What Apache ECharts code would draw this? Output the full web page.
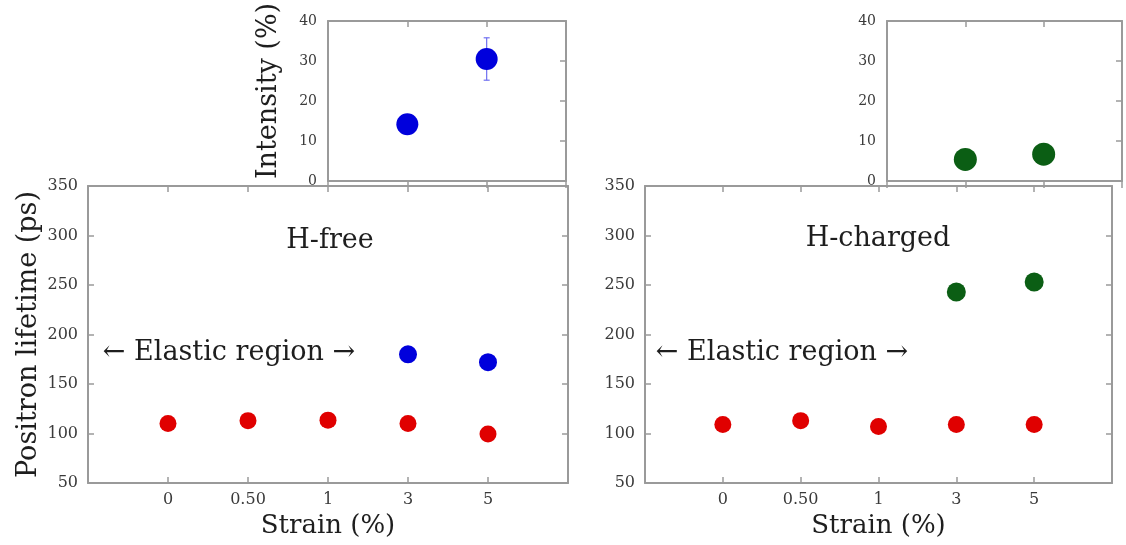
<!DOCTYPE html>
<html>
<head>
<meta charset="utf-8">
<script src="https://cdn.jsdelivr.net/npm/echarts@6/dist/echarts.min.js"></script>
<style>
  html, body { margin: 0; padding: 0; background: #fff; }
  #chart { width: 1126px; height: 545px; }
</style>
</head>
<body>
<div id="chart"></div>
<script>
// strain categories (x positions are their index)
const strainLabels = ['0', '0.50', '1', '3', '5'];
// positron lifetime (ps)
const freeRed = [110, 113, 113.5, 110, 99.5];
const freeBlue = [null, null, null, 180, 172];
const chargedRed = [109, 113, 107, 109, 109];
const chargedGreen = [null, null, null, 243, 253];
// intensity (%)
const freeIntensity = [null, null, null, 14.2, 30.5];
const freeIntensityLow = [null, null, null, null, 25.2];
const freeIntensityHigh = [null, null, null, null, 35.8];
const chargedIntensity = [null, null, null, 5.4, 6.7];
// tick values
const lifetimeTicks = [50, 100, 150, 200, 250, 300, 350];
const intensityTicks = [0, 10, 20, 30, 40];

const FONT = 'DejaVu Serif';
const LINE = '#9a9a9a';
const TXT = '#1e1e1e';

const toPoints = (arr) => arr.map((v, i) => (v == null ? null : [i, v])).filter(Boolean);

const grids = [
  { left: 88, top: 186, width: 480, height: 297 },   // H-free lifetime
  { left: 645, top: 186, width: 467, height: 297 },  // H-charged lifetime
  { left: 328, top: 21, width: 238, height: 160 },   // H-free intensity
  { left: 887, top: 21, width: 235, height: 160 },   // H-charged intensity
];

const xAxis = [];
const yAxis = [];

function boxAxes(g, xmin, xmax, ymin, ymax, yint, opts) {
  const line = { onZero: false, lineStyle: { color: LINE, width: 2 } };
  const tick = { inside: true, length: 6, lineStyle: { color: LINE, width: 1.5 } };
  // bottom x
  xAxis.push({
    gridIndex: g, type: 'value', min: xmin, max: xmax, interval: 1, position: 'bottom',
    axisLine: line,
    axisTick: opts.bottomTick || tick,
    splitLine: { show: false },
    axisLabel: opts.xLabels
      ? { formatter: (v) => strainLabels[v] ?? '', color: '#3a3a3a', fontFamily: FONT, fontSize: 16, margin: 9 }
      : { show: false },
    name: opts.xName || '', nameLocation: 'middle', nameGap: 29,
    nameTextStyle: { fontFamily: FONT, fontSize: 26, color: TXT },
  });
  // top x
  xAxis.push({
    gridIndex: g, type: 'value', min: xmin, max: xmax, interval: 1, position: 'top',
    axisLine: line, axisTick: tick, splitLine: { show: false }, axisLabel: { show: false },
  });
  // left y
  yAxis.push({
    gridIndex: g, type: 'value', min: ymin, max: ymax, interval: yint, position: 'left',
    axisLine: line,
    axisTick: opts.leftTick === false ? { show: false } : tick,
    splitLine: { show: false },
    axisLabel: { color: '#3a3a3a', fontFamily: FONT, fontSize: opts.yFont, margin: opts.yMargin },
    name: opts.yName || '', nameLocation: 'middle', nameRotate: 90, nameGap: opts.yNameGap || 46,
    nameTextStyle: { fontFamily: FONT, fontSize: opts.yNameSize || 26, color: TXT, padding: opts.yNamePad || 0 },
  });
  // right y
  yAxis.push({
    gridIndex: g, type: 'value', min: ymin, max: ymax, interval: yint, position: 'right',
    axisLine: line, axisTick: tick, splitLine: { show: false }, axisLabel: { show: false },
  });
}

const ltMin = lifetimeTicks[0], ltMax = lifetimeTicks[lifetimeTicks.length - 1];
const ltInt = lifetimeTicks[1] - lifetimeTicks[0];
const inMin = intensityTicks[0], inMax = intensityTicks[intensityTicks.length - 1];
const inInt = intensityTicks[1] - intensityTicks[0];

boxAxes(0, -1, 5, ltMin, ltMax, ltInt, { xLabels: true, xName: 'Strain (%)', yFont: 16, yMargin: 10, yName: 'Positron lifetime (ps)', yNameSize: 27 });
boxAxes(1, -1, 5, ltMin, ltMax, ltInt, { xLabels: true, xName: 'Strain (%)', yFont: 16, yMargin: 10 });
const outTick = { inside: false, length: 7, lineStyle: { color: LINE, width: 1.5 } };
boxAxes(2, 2, 5, inMin, inMax, inInt, { yFont: 14, yMargin: 11, leftTick: false, bottomTick: outTick, yName: 'Intensity (%)', yNameGap: 46, yNameSize: 27, yNamePad: [0, 0, 0, 20] });
boxAxes(3, 2, 5, inMin, inMax, inInt, { yFont: 14, yMargin: 11, leftTick: false, bottomTick: outTick });

// axis indices: grid g -> bottom x = 2g, left y = 2g
const RED = '#e00000', BLUE = '#0000dc', GREEN = '#0b5e14';

const errData = freeIntensityLow
  .map((lo, i) => (lo == null ? null : [i, lo, freeIntensityHigh[i]]))
  .filter(Boolean);

const dot = (color) => ({ color: color, opacity: 1 });

const series = [
  { type: 'scatter', xAxisIndex: 0, yAxisIndex: 0, data: toPoints(freeRed), symbolSize: 17, itemStyle: dot(RED) },
  { type: 'scatter', xAxisIndex: 0, yAxisIndex: 0, data: toPoints(freeBlue), symbolSize: 18, itemStyle: dot(BLUE) },
  { type: 'scatter', xAxisIndex: 2, yAxisIndex: 2, data: toPoints(chargedRed), symbolSize: 17, itemStyle: dot(RED) },
  { type: 'scatter', xAxisIndex: 2, yAxisIndex: 2, data: toPoints(chargedGreen), symbolSize: 19, itemStyle: dot(GREEN) },
  {
    type: 'custom', xAxisIndex: 4, yAxisIndex: 4, data: errData, z: 1,
    encode: { x: 0, y: [1, 2] },
    renderItem: (params, api) => {
      const x = api.value(0);
      const lo = api.coord([x, api.value(1)]);
      const hi = api.coord([x, api.value(2)]);
      const st = { stroke: '#6f6ff0', lineWidth: 1.2 };
      return {
        type: 'group',
        children: [
          { type: 'line', shape: { x1: lo[0], y1: lo[1], x2: hi[0], y2: hi[1] }, style: st },
          { type: 'line', shape: { x1: lo[0] - 3, y1: lo[1], x2: lo[0] + 3, y2: lo[1] }, style: st },
          { type: 'line', shape: { x1: hi[0] - 3, y1: hi[1], x2: hi[0] + 3, y2: hi[1] }, style: st },
        ],
      };
    },
  },
  { type: 'scatter', xAxisIndex: 4, yAxisIndex: 4, data: toPoints(freeIntensity), symbolSize: 22, z: 3, itemStyle: dot(BLUE) },
  { type: 'scatter', xAxisIndex: 6, yAxisIndex: 6, data: toPoints(chargedIntensity), symbolSize: 23, itemStyle: dot(GREEN) },
];

const textStyle = (t, x, y) => ({
  type: 'text', x: x, y: y,
  style: { text: t, font: '27px "DejaVu Serif"', fill: TXT, align: 'center', verticalAlign: 'middle' },
});

const chart = echarts.init(document.getElementById('chart'));
chart.setOption({
  animation: false,
  backgroundColor: '#fff',
  grid: grids,
  xAxis: xAxis,
  yAxis: yAxis,
  series: series,
  graphic: [
    textStyle('H-free', 330, 241),
    textStyle('H-charged', 878, 239),
    textStyle('\u2190 Elastic region \u2192', 229, 353),
    textStyle('\u2190 Elastic region \u2192', 782, 353),
  ],
});
</script>
</body>
</html>
